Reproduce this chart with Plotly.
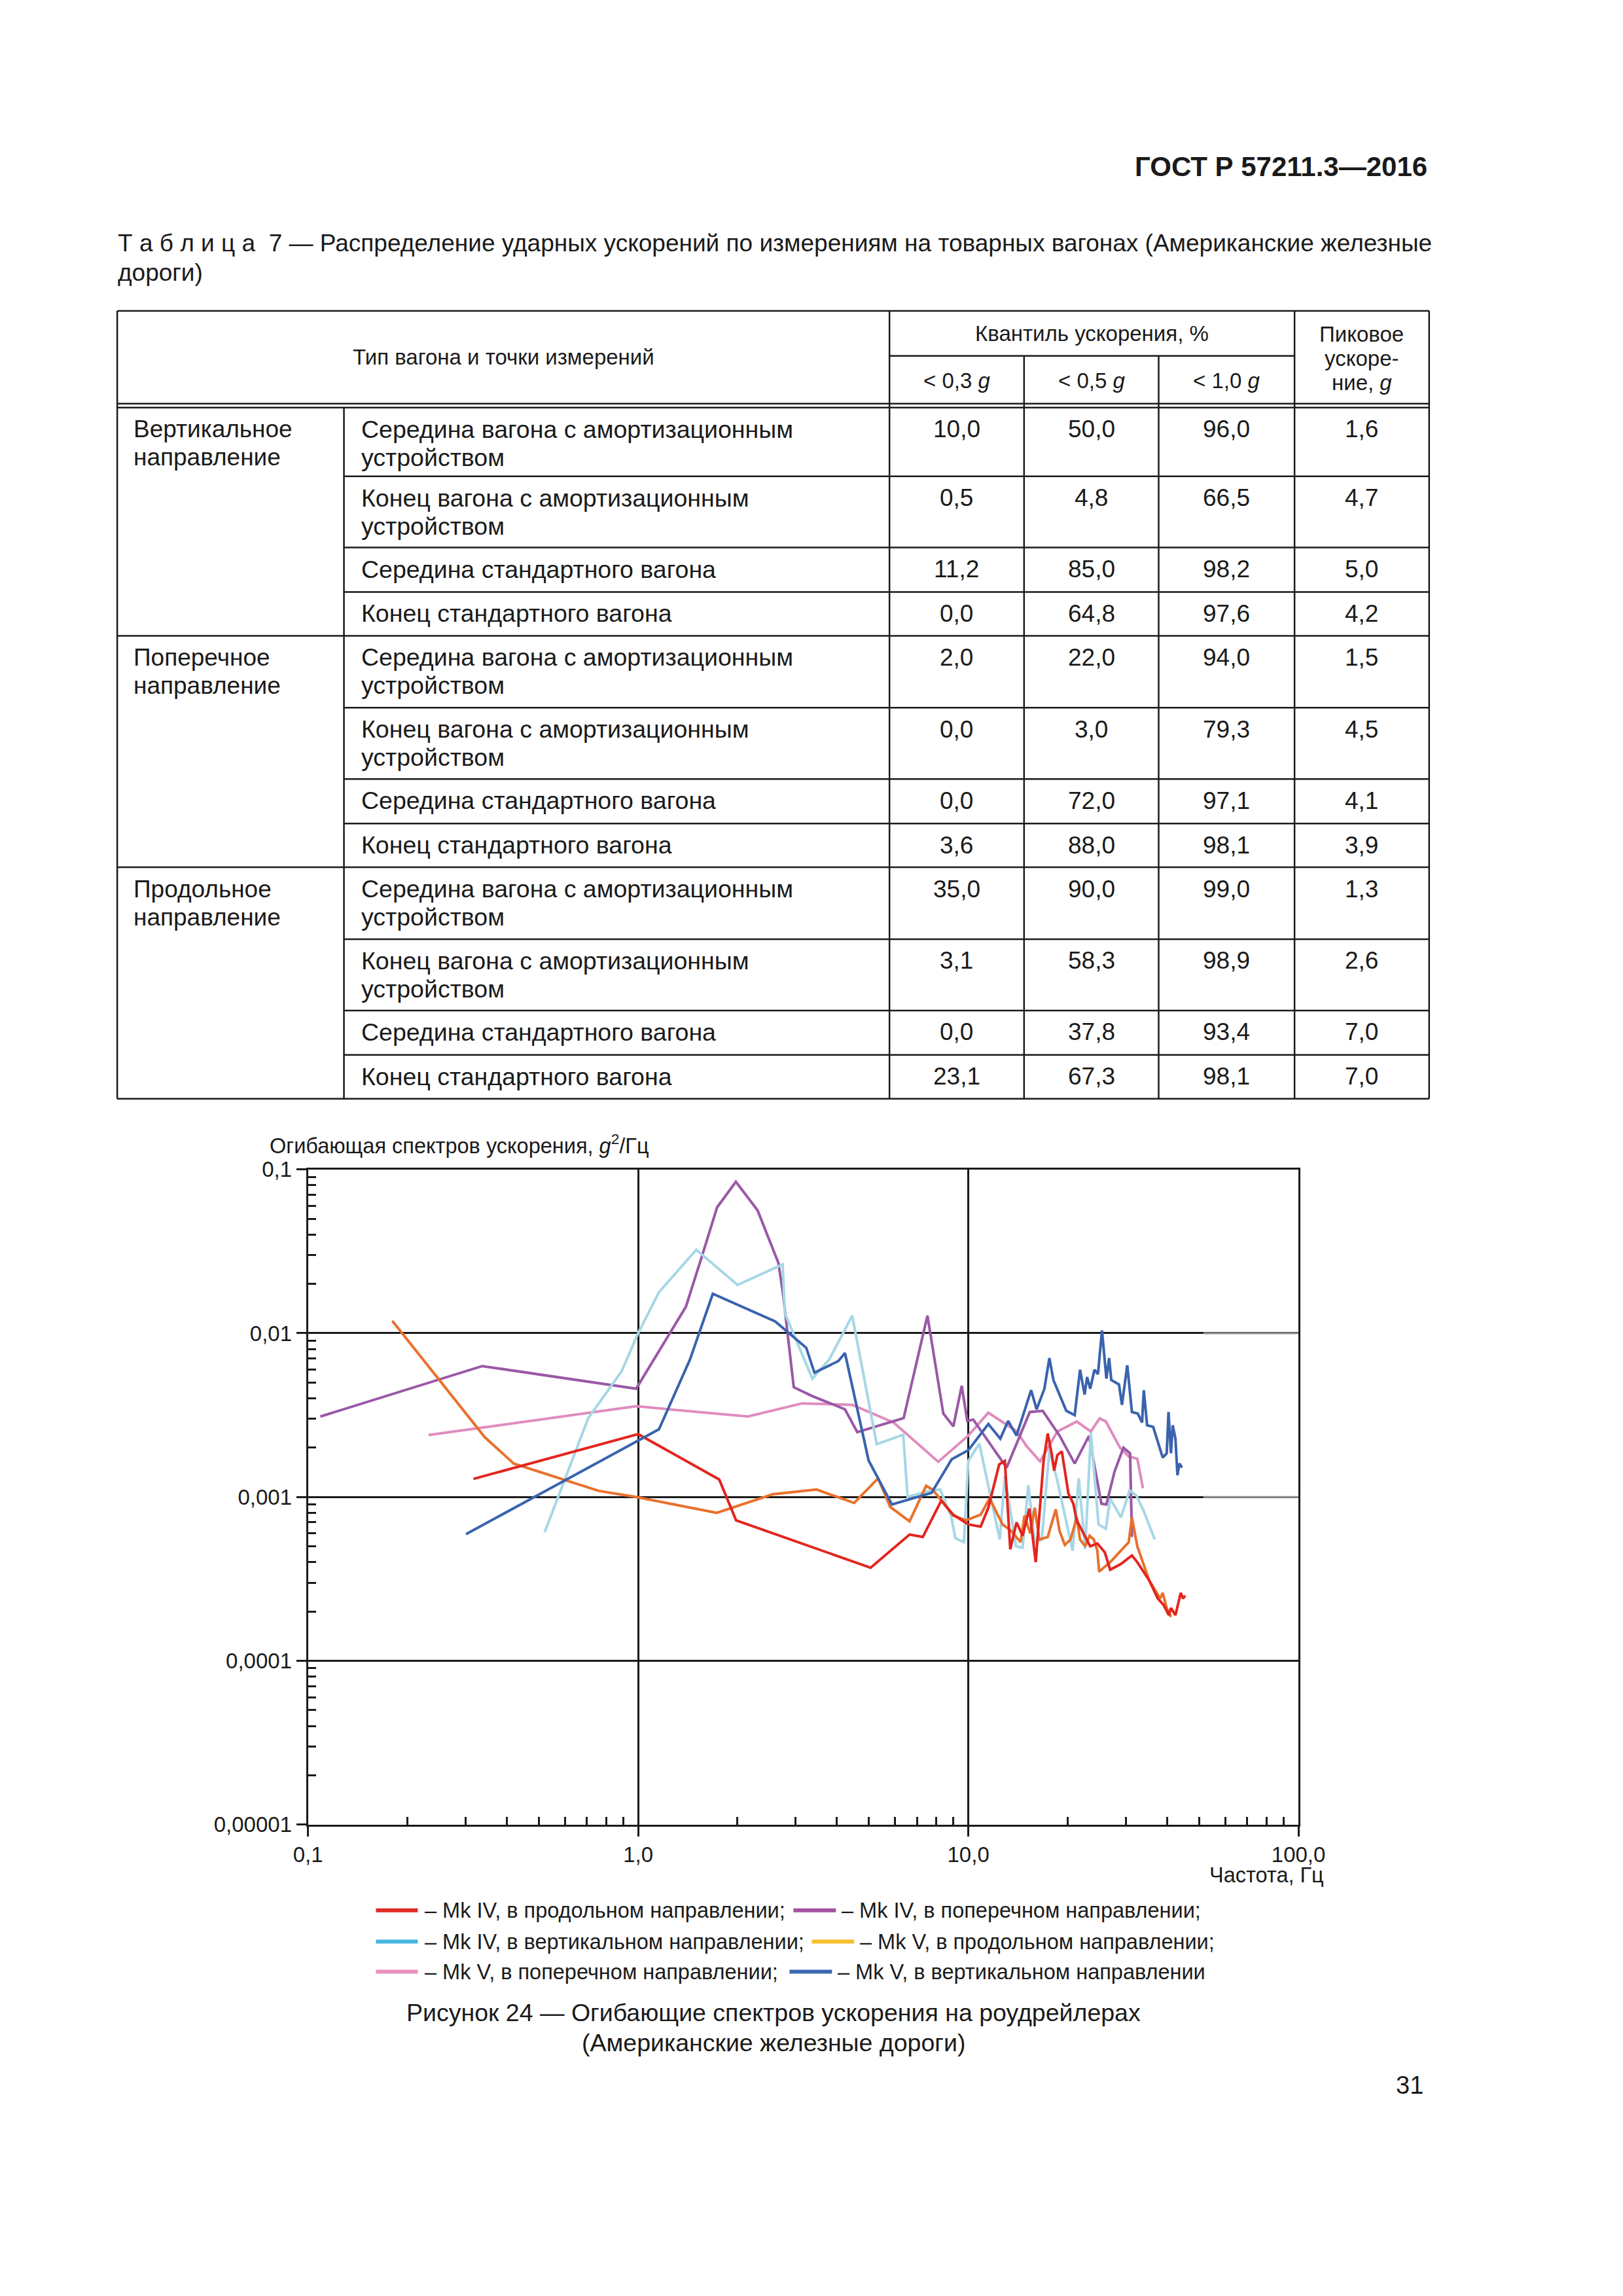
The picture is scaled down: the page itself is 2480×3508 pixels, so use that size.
import plotly.graph_objects as go

W, H = 2480, 3508
FONT = "Liberation Sans, Arial, Helvetica, sans-serif"
INK = "#1a1a1a"

# ---------------- table data ----------------
header_doc = "ГОСТ Р 57211.3—2016"
table_caption_1 = "Т а б л и ц а  7 — Распределение ударных ускорений по измерениям на товарных вагонах (Американские железные"
table_caption_2 = "дороги)"
head_type = "Тип вагона и точки измерений"
head_quant = "Квантиль ускорения, %"
head_quant_cols = ["&lt; 0,3 <i>g</i>", "&lt; 0,5 <i>g</i>", "&lt; 1,0 <i>g</i>"]
head_peak = ["Пиковое", "ускоре-", "ние, <i>g</i>"]
groups = [["Вертикальное", "направление"], ["Поперечное", "направление"], ["Продольное", "направление"]]
points = [["Середина вагона с амортизационным", "устройством"],
          ["Конец вагона с амортизационным", "устройством"],
          ["Середина стандартного вагона"],
          ["Конец стандартного вагона"]]
q03 = [10.0, 0.5, 11.2, 0.0, 2.0, 0.0, 0.0, 3.6, 35.0, 3.1, 0.0, 23.1]
q05 = [50.0, 4.8, 85.0, 64.8, 22.0, 3.0, 72.0, 88.0, 90.0, 58.3, 37.8, 67.3]
q10 = [96.0, 66.5, 98.2, 97.6, 94.0, 79.3, 97.1, 98.1, 99.0, 98.9, 93.4, 98.1]
peak = [1.6, 4.7, 5.0, 4.2, 1.5, 4.5, 4.1, 3.9, 1.3, 2.6, 7.0, 7.0]

# ---------------- chart data ----------------
f_mk4_long = [0.317, 1.0, 1.76, 1.98, 5.06, 6.64, 7.28, 8.28, 9.0, 10.0, 10.9, 11.5, 12.4, 12.9, 13.4,
              14.0, 14.6, 15.3, 16.0, 16.9, 17.4, 17.9, 18.2, 18.6, 19.2, 20.1, 20.8, 21.3, 23.4, 24.6,
              25.9, 26.9, 29.0, 31.3, 32.5, 35.3, 37.5, 39.0, 40.5, 41.1, 42.4, 44.0, 44.7, 45.4]
v_mk4_long = [0.00129, 0.00242, 0.00128, 0.00072, 0.00037, 0.00059, 0.00057, 0.00095, 0.00078, 0.00068,
              0.00066, 0.00086, 0.00158, 0.00166, 0.00048, 0.0007, 0.00058, 0.00085, 0.0004, 0.00166,
              0.00244, 0.00182, 0.00145, 0.0018, 0.0019, 0.00105, 0.00091, 0.00072, 0.0005, 0.00052,
              0.00046, 0.00036, 0.00039, 0.00044, 0.0004, 0.00031, 0.00024, 0.00022, 0.00019, 0.00021,
              0.00019, 0.00026, 0.00024, 0.00025]

f_mk4_trans = [0.109, 0.337, 0.986, 1.395, 1.567, 1.734, 1.977, 2.30, 2.66, 2.75, 2.96, 3.37, 4.23, 4.61,
               6.37, 7.52, 8.4, 9.01, 9.55, 9.93, 10.35, 13.06, 15.35, 16.8, 18.9, 21.0, 23.2, 25.3, 26.2,
               27.7, 29.5, 30.9, 31.3]
v_mk4_trans = [0.0031, 0.0063, 0.00458, 0.0145, 0.0303, 0.0586, 0.0841, 0.0562, 0.0268, 0.017, 0.00468,
               0.00413, 0.00343, 0.00249, 0.00303, 0.0128, 0.00323, 0.0027, 0.00477, 0.00291, 0.00297,
               0.00151, 0.0033, 0.00336, 0.00237, 0.0016, 0.00236, 0.00091, 0.0009, 0.00142, 0.002,
               0.00185, 0.00057]

f_mk4_vert = [0.521, 0.706, 0.891, 1.0, 1.156, 1.5, 2.0, 2.74, 2.78, 3.37, 3.79, 4.45, 5.28, 6.35, 6.55,
              7.73, 8.22, 8.86, 9.14, 9.7, 10.0, 10.8, 12.45, 12.9, 13.95, 14.6, 15.2, 15.9, 16.7, 17.6,
              18.6, 19.6, 20.7, 21.6, 22.6, 23.5, 24.8, 26.1, 26.9, 29.0, 30.8, 32.3, 34.0, 36.7]
v_mk4_vert = [0.00061, 0.00303, 0.00586, 0.01, 0.0178, 0.0323, 0.0197, 0.0263, 0.0133, 0.00528, 0.0069,
              0.0128, 0.0021, 0.0024, 0.001, 0.0011, 0.00111, 0.00077, 0.00056, 0.00053, 0.00166, 0.00212,
              0.00055, 0.00134, 0.0005, 0.00049, 0.00118, 0.00053, 0.00055, 0.00194, 0.00126, 0.00079,
              0.00047, 0.0013, 0.00048, 0.00247, 0.00068, 0.00064, 0.00098, 0.00075, 0.0011, 0.00102,
              0.00082, 0.00055]

f_mk5_long = [0.18, 0.343, 0.42, 0.76, 0.986, 1.73, 2.56, 3.47, 4.51, 5.33, 5.8, 6.64, 7.45, 7.79, 8.34,
              9.0, 9.85, 10.9, 11.6, 12.7, 13.5, 14.4, 14.8, 15.4, 15.9, 16.4, 17.4, 18.4, 18.9, 19.6,
              20.4, 21.3, 21.8, 22.6, 23.3, 24.0, 24.6, 24.9, 26.9, 29.5, 30.6, 31.3, 32.5, 35.3, 38.1,
              38.8, 39.9, 41.1]
v_mk5_long = [0.0119, 0.00232, 0.0016, 0.00109, 0.001, 0.0008, 0.00104, 0.00111, 0.00092, 0.0013, 0.00087,
              0.00071, 0.00117, 0.00111, 0.00094, 0.00077, 0.00072, 0.00078, 0.00098, 0.00068, 0.00062,
              0.00053, 0.00077, 0.0006, 0.00086, 0.00055, 0.00057, 0.00084, 0.00062, 0.00051, 0.00055,
              0.00075, 0.00055, 0.0005, 0.00058, 0.00055, 0.00047, 0.00035, 0.0004, 0.00049, 0.00053,
              0.00075, 0.0005, 0.00031, 0.00024, 0.00026, 0.00021, 0.000185]

f_mk5_trans = [0.232, 0.986, 2.15, 3.14, 4.45, 5.94, 8.11, 10.0, 11.5, 14.0, 15.0, 16.5, 18.6, 19.7, 21.3,
               23.5, 25.0, 26.1, 27.5, 28.8, 30.6, 32.5, 33.8]
v_mk5_trans = [0.00239, 0.00358, 0.0031, 0.00373, 0.00365, 0.00285, 0.00164, 0.00237, 0.00327, 0.00252,
               0.00205, 0.00165, 0.00251, 0.00267, 0.00289, 0.00251, 0.00302, 0.00289, 0.0024, 0.002,
               0.00177, 0.00171, 0.00113]

f_mk5_vert = [0.301, 1.156, 1.435, 1.683, 2.60, 3.23, 3.42, 4.04, 4.23, 4.99, 5.87, 7.74, 8.91, 10.0, 11.5,
              12.5, 13.2, 14.0, 15.5, 16.1, 17.0, 17.6, 18.1, 19.8, 21.0, 21.8, 22.5, 22.9, 23.4, 24.1,
              24.7, 25.4, 26.2, 26.7, 27.1, 28.6, 29.2, 30.3, 31.3, 32.6, 33.6, 34.0, 34.8, 36.3, 38.8,
              39.9, 40.4, 41.1, 41.6, 42.4, 43.0, 43.6, 44.4]
v_mk5_vert = [0.000593, 0.00259, 0.0069, 0.0174, 0.0118, 0.00814, 0.00574, 0.00676, 0.00757, 0.00167,
              0.0009, 0.00106, 0.0017, 0.00193, 0.00279, 0.00227, 0.00291, 0.00237, 0.00449, 0.00343,
              0.00458, 0.00705, 0.00518, 0.00336, 0.00316, 0.00598, 0.00422, 0.0054, 0.00458, 0.00598,
              0.00562, 0.0104, 0.00528, 0.00705, 0.00518, 0.00487, 0.00365, 0.00637, 0.0033, 0.00323,
              0.00285, 0.00449, 0.00274, 0.00268, 0.00174, 0.00185, 0.0033, 0.00185, 0.00274, 0.00227,
              0.00136, 0.0016, 0.00151]

x_tick_vals = [0.1, 1, 10, 100]
x_tick_text = ["0,1", "1,0", "10,0", "100,0"]
y_tick_vals = [1e-5, 1e-4, 1e-3, 1e-2, 1e-1]
y_tick_text = ["0,00001", "0,0001", "0,001", "0,01", "0,1"]

legend_labels = [["– Mk IV, в продольном направлении;", "– Mk IV, в поперечном направлении;"],
                 ["– Mk IV, в вертикальном направлении;", "– Mk V, в продольном направлении;"],
                 ["– Mk V, в поперечном направлении;", "– Mk V, в вертикальном направлении"]]
figure_caption = ["Рисунок 24 — Огибающие спектров ускорения на роудрейлерах",
                  "(Американские железные дороги)"]
page_number = "31"

# ---------------- styles ----------------
C_RED, C_PURPLE, C_LBLUE, C_ORANGE, C_PINK, C_BLUE = "#e3251e", "#9a58a6", "#a6d7e6", "#e8712c", "#e08cbe", "#3a63ae"
LEG_COLORS = [["#e02a22", "#a2519f"], ["#47b6e2", "#f4c02c"], ["#ea8fba", "#3c68b2"]]

# page-pixel -> paper fraction (calibrated against the captured frame)
S_REF = 0.4471
AX, BX = 12.8, 1082.0
AY, BY = 10.6, 1553.3


def X(px):
    return (S_REF * px - AX) / BX


def Y(py):
    return 1 - (S_REF * py - AY) / BY


fig = go.Figure()

traces = [(f_mk5_trans, v_mk5_trans, C_PINK), (f_mk4_trans, v_mk4_trans, C_PURPLE),
          (f_mk4_vert, v_mk4_vert, C_LBLUE), (f_mk5_long, v_mk5_long, C_ORANGE),
          (f_mk4_long, v_mk4_long, C_RED), (f_mk5_vert, v_mk5_vert, C_BLUE)]
for fx, vy, col in traces:
    fig.add_trace(go.Scatter(x=fx, y=vy, mode="lines", line=dict(color=col, width=4),
                             showlegend=False, hoverinfo="skip"))

minor_x = [m * 10 ** e for e in (-1, 0, 1) for m in range(2, 10)]
minor_y = [m * 10 ** e for e in (-5, -4, -3, -2) for m in range(2, 10)]

axis_common = dict(type="log", showline=True, linecolor=INK, linewidth=3, mirror=True,
                   showgrid=True, gridcolor=INK, gridwidth=3, zeroline=False,
                   ticks="outside", ticklen=15, tickwidth=3, tickcolor=INK,
                   tickfont=dict(family=FONT, size=33, color=INK), tickmode="array")
fig.update_layout(
    width=W, height=H, margin=dict(l=0, r=0, t=0, b=0),
    paper_bgcolor="white", plot_bgcolor="white", showlegend=False,
    xaxis=dict(axis_common, range=[-1, 2], domain=[X(469), X(1985)],
               tickvals=x_tick_vals, ticktext=x_tick_text,
               minor=dict(tickmode="array", tickvals=minor_x, ticks="inside", ticklen=12,
                          tickwidth=2.5, tickcolor=INK, showgrid=False)),
    yaxis=dict(axis_common, range=[-5, -1], domain=[Y(2788), Y(1786)],
               tickvals=y_tick_vals, ticktext=y_tick_text,
               minor=dict(tickmode="array", tickvals=minor_y, ticks="inside", ticklen=12,
                          tickwidth=2.5, tickcolor=INK, showgrid=False)),
)

# lighter right ends of two grid lines
for yv in (1e-2, 1e-3):
    fig.add_shape(type="line", xref="x", yref="y", x0=51.5, x1=100, y0=yv, y1=yv,
                  line=dict(color="#8c8c8c", width=3), layer="above")


def text(px, py, s, size=37, xanchor="left", bold=False):
    fig.add_annotation(x=X(px), y=Y(py), xref="paper", yref="paper", text=(f"<b>{s}</b>" if bold else s),
                       showarrow=False, xanchor=xanchor, yanchor="middle",
                       font=dict(family=FONT, size=size, color=INK))


def line(x0, y0, x1, y1, w=2.5, color=INK):
    fig.add_shape(type="line", xref="paper", yref="paper", x0=X(x0), y0=Y(y0), x1=X(x1), y1=Y(y1),
                  line=dict(color=color, width=w))


# ---------------- page header and table caption ----------------
text(2184, 252, header_doc, size=42, xanchor="right", bold=True)
text(176, 370, table_caption_1, size=37)
text(176, 415, table_caption_2, size=37)

# ---------------- table grid ----------------
L, R, T, B = 177, 2185, 473, 1678
cols = [524, 1359, 1565, 1771, 1979]
row_tops = [621, 726, 835, 903, 970, 1080, 1189, 1257, 1324, 1434, 1543, 1611]
line(L, T, R, T)
line(cols[1], 542, cols[4], 542)
line(L, 615, R, 615)
line(L, 621, R, 621)
for i, yt in enumerate(row_tops[1:], start=1):
    line(L if i % 4 == 0 else cols[0], yt, R, yt)
line(L, B, R, B)
line(L, T, L, B)
line(R, T, R, B)
line(cols[0], 621, cols[0], B)
line(cols[1], T, cols[1], B)
line(cols[2], 542, cols[2], B)
line(cols[3], 542, cols[3], B)
line(cols[4], T, cols[4], B)

# header texts
text((L + cols[1]) / 2, 544, head_type, size=33, xanchor="center")
text((cols[1] + cols[4]) / 2, 508, head_quant, size=33, xanchor="center")
for k, s in enumerate(head_quant_cols):
    text((cols[1 + k] + cols[2 + k]) / 2, 580, s, size=33, xanchor="center")
for k, s in enumerate(head_peak):
    text((cols[4] + R) / 2, 509 + 37 * k, s, size=33, xanchor="center")


# body
def fmt(v):
    return f"{v:.1f}".replace(".", ",")


for g, lines_g in enumerate(groups):
    for k, s in enumerate(lines_g):
        text(200, row_tops[4 * g] + 33 + 43 * k, s)
for r, yt in enumerate(row_tops):
    y0 = yt + 33
    for k, s in enumerate(points[r % 4]):
        text(548, y0 + 43 * k, s, size=37.5)
    for c, arr in enumerate([q03, q05, q10, peak]):
        text((cols[1 + c] + (cols[2 + c] if c < 3 else R)) / 2, y0, fmt(arr[r]), xanchor="center")

# ---------------- chart texts ----------------
text(408, 1747, "Огибающая спектров ускорения, <i>g</i><sup>2</sup>/Гц", size=32.5)
text(2026, 2865, "Частота, Гц", size=32.5, xanchor="right")

# legend (drawn manually to keep its two-column layout)
leg_rows_y = [2919, 2967, 3013]
leg_second_x = [1212, 1240, 1206]
for r, yv in enumerate(leg_rows_y):
    line(573, yv, 637, yv, w=6, color=LEG_COLORS[r][0])
    text(646, yv, legend_labels[r][0], size=32.5)
    x2 = leg_second_x[r]
    line(x2, yv, x2 + 65, yv, w=6, color=LEG_COLORS[r][1])
    text(x2 + 72, yv, legend_labels[r][1], size=32.5)

# figure caption and page number
text(1182, 3075, figure_caption[0], size=37.5, xanchor="center")
text(1182, 3122, figure_caption[1], size=37.5, xanchor="center")
text(2178, 3187, page_number, size=38, xanchor="right")

fig.write_html("out.html")
